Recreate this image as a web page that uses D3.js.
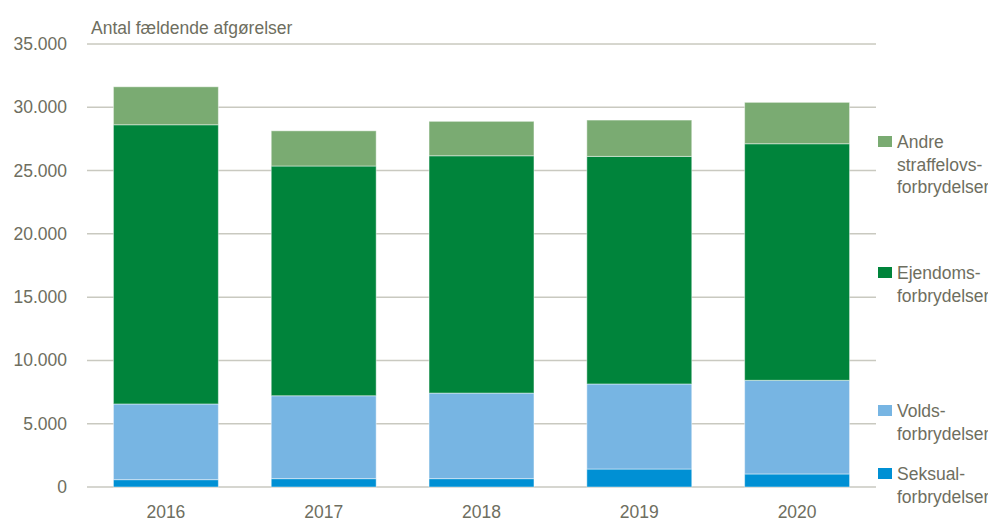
<!DOCTYPE html>
<html>
<head>
<meta charset="utf-8">
<script src="https://cdn.jsdelivr.net/npm/d3@7"></script>
<style>
  body { margin: 0; background: #fff; }
  text { font-family: "Liberation Sans", Arial, sans-serif; }
</style>
</head>
<body>
<div id="chart"></div>
<script>
// Data
const years = ["2016", "2017", "2018", "2019", "2020"];
const seksual = [580, 660, 660, 1420, 1030];
const volds = [5980, 6550, 6760, 6720, 7400];
const ejendom = [22060, 18150, 18750, 17980, 18690];
const andre = [3000, 2780, 2720, 2870, 3270];
const yTicks = [0, 5000, 10000, 15000, 20000, 25000, 30000, 35000];

const seriesKeys = ["seksual", "volds", "ejendom", "andre"];
const colors = { seksual: "#0090d4", volds: "#77b5e3", ejendom: "#00843b", andre: "#7aab72" };
const legendLines = {
    andre: ["Andre", "straffelovs-", "forbrydelser"],
    ejendom: ["Ejendoms-", "forbrydelser"],
    volds: ["Volds-", "forbrydelser"],
    seksual: ["Seksual-", "forbrydelser"]
};
// baseline of the first legend line for each entry
const legendY = { andre: 148, ejendom: 279, volds: 417, seksual: 480 };

const table = years.map((y, i) => ({
    year: y, seksual: seksual[i], volds: volds[i], ejendom: ejendom[i], andre: andre[i]
}));

const width = 988, height = 520;
const plot = { left: 87, right: 876, top: 44, bottom: 487 };
const textColor = "#6e6e60";

const svg = d3.select("#chart").append("svg")
    .attr("width", width)
    .attr("height", height);

const x = d3.scaleBand()
    .domain(years)
    .range([plot.left, plot.right])
    .paddingInner(0.335)
    .paddingOuter(0.1675);

const y = d3.scaleLinear()
    .domain([0, 35000])
    .range([plot.bottom, plot.top]);

const fmt = v => d3.format(",")(v).replace(/,/g, ".");

// gridlines
svg.append("g")
    .selectAll("line")
    .data(yTicks)
    .join("line")
    .attr("x1", plot.left)
    .attr("x2", plot.right)
    .attr("y1", d => y(d))
    .attr("y2", d => y(d))
    .attr("stroke", d => d === 35000 ? "#aeae9e" : "#c9c9c0")
    .attr("stroke-width", d => d === 35000 ? 1 : 1.5);

// y tick labels
svg.append("g")
    .selectAll("text")
    .data(yTicks)
    .join("text")
    .attr("x", 67)
    .attr("y", d => y(d) + 6)
    .attr("text-anchor", "end")
    .attr("font-size", 17.5)
    .attr("fill", textColor)
    .text(fmt);

// stacked bars
const stacked = d3.stack().keys(seriesKeys)(table);

svg.append("g")
    .selectAll("g")
    .data(stacked)
    .join("g")
    .attr("fill", d => colors[d.key])
    .selectAll("rect")
    .data(d => d)
    .join("rect")
    .attr("x", d => x(d.data.year))
    .attr("width", x.bandwidth())
    .attr("y", d => y(d[1]))
    .attr("height", d => y(d[0]) - y(d[1]))
    .attr("stroke", "#ffffff")
    .attr("stroke-opacity", 0.45)
    .attr("stroke-width", 1);

// x labels
svg.append("g")
    .selectAll("text")
    .data(years)
    .join("text")
    .attr("x", d => x(d) + x.bandwidth() / 2)
    .attr("y", 518)
    .attr("text-anchor", "middle")
    .attr("font-size", 17.5)
    .attr("fill", textColor)
    .text(d => d);

// title
svg.append("text")
    .attr("x", 91)
    .attr("y", 34)
    .attr("font-size", 17.5)
    .attr("fill", textColor)
    .text("Antal fældende afgørelser");

// legend
const legend = svg.append("g")
    .selectAll("g")
    .data(["andre", "ejendom", "volds", "seksual"])
    .join("g")
    .attr("transform", d => `translate(878,${legendY[d]})`);

legend.append("rect")
    .attr("x", 0)
    .attr("y", -12)
    .attr("width", 14)
    .attr("height", 11)
    .attr("fill", d => colors[d]);

legend.append("text")
    .attr("font-size", 17.5)
    .attr("fill", textColor)
    .selectAll("tspan")
    .data(d => legendLines[d])
    .join("tspan")
    .attr("x", 19)
    .attr("y", (d, i) => i * 22.5)
    .text(d => d);
</script>
</body>
</html>
